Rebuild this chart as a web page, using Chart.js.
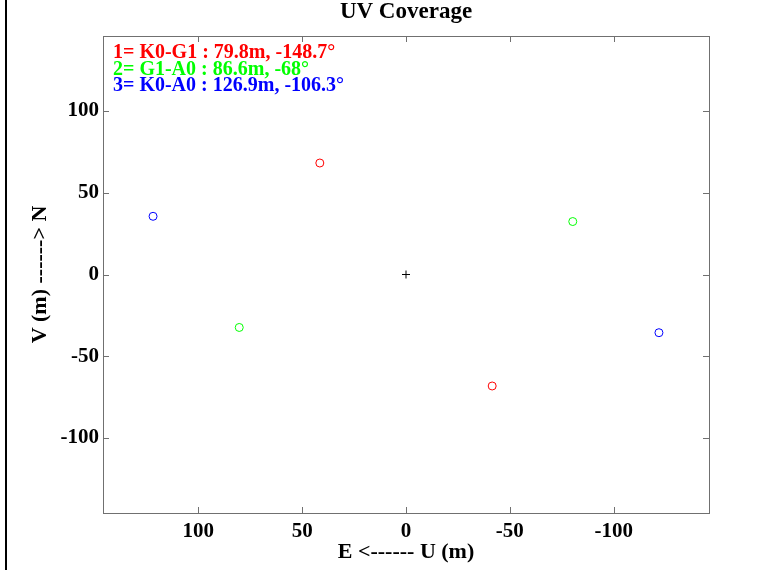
<!DOCTYPE html>
<html>
<head>
<meta charset="utf-8">
<script src="https://cdn.jsdelivr.net/npm/chart.js@4"></script>
<style>
  html, body { margin: 0; padding: 0; background: #fff; }
  #wrap { width: 775px; height: 570px; }
</style>
</head>
<body>
<div id="wrap"><canvas id="uvChart" width="775" height="570"></canvas></div>
<script>
const titleText = "UV Coverage";
const xLabel = "E <------ U (m)";
const yLabel = "V (m) ------> N";

// baselines (u, v) in metres
const u1 = [41.5, -41.5];
const v1 = [68.2, -68.2];
const u2 = [80.3, -80.3];
const v2 = [-32.4, 32.4];
const u3 = [121.8, -121.8];
const v3 = [35.6, -35.6];
const centre = [{ x: 0, y: 0 }];

const legendLines = [
  "1= K0-G1 : 79.8m, -148.7°",
  "2= G1-A0 : 86.6m, -68°",
  "3= K0-A0 : 126.9m, -106.3°",
];
const legendColors = ["#ff0000", "#00ff00", "#0000ff"];

const axisLimit = 145.9;
const xTicks = [100, 50, 0, -50, -100];
const yTicks = [100, 50, 0, -50, -100];

const toPoints = (us, vs) => us.map((u, i) => ({ x: u, y: vs[i] }));

const serif = "'Liberation Serif', 'Times New Roman', serif";
const boxColor = "#707070";

const framePlugin = {
  id: "frame",
  afterDraw(chart) {
    const ctx = chart.ctx;
    const a = chart.chartArea;
    const xs = chart.scales.x;
    const ys = chart.scales.y;
    ctx.save();
    // figure edge line on the left
    ctx.fillStyle = "#000";
    ctx.fillRect(5, 0, 2, chart.height);
    // axes box
    ctx.strokeStyle = boxColor;
    ctx.lineWidth = 1;
    ctx.strokeRect(Math.round(a.left) + 0.5, Math.round(a.top) + 0.5,
      Math.round(a.right - a.left), Math.round(a.bottom - a.top));
    // inward ticks on all four sides
    ctx.beginPath();
    xTicks.forEach((t) => {
      const px = Math.round(xs.getPixelForValue(t)) + 0.5;
      ctx.moveTo(px, a.bottom); ctx.lineTo(px, a.bottom - 6);
      ctx.moveTo(px, a.top); ctx.lineTo(px, a.top + 6);
    });
    yTicks.forEach((t) => {
      const py = Math.round(ys.getPixelForValue(t)) + 0.5;
      ctx.moveTo(a.left, py); ctx.lineTo(a.left + 6, py);
      ctx.moveTo(a.right, py); ctx.lineTo(a.right - 6, py);
    });
    ctx.stroke();
    // title
    ctx.fillStyle = "#000";
    ctx.font = "bold 23px " + serif;
    ctx.textAlign = "center";
    ctx.textBaseline = "alphabetic";
    ctx.fillText(titleText, (a.left + a.right) / 2, 18);
    // baseline legend text
    ctx.font = "bold 20px " + serif;
    ctx.textAlign = "left";
    legendLines.forEach((line, i) => {
      ctx.fillStyle = legendColors[i];
      ctx.fillText(line, a.left + 10, 58 + i * 16.7);
    });
    ctx.restore();
  },
};

const circle = (color) => ({
  pointStyle: "circle",
  pointRadius: 4,
  pointBorderWidth: 1,
  borderColor: color,
  backgroundColor: "rgba(0,0,0,0)",
  pointHoverRadius: 4,
});

new Chart(document.getElementById("uvChart"), {
  type: "scatter",
  data: {
    datasets: [
      { label: "1", data: toPoints(u1, v1), ...circle("#ff0000") },
      { label: "2", data: toPoints(u2, v2), ...circle("#00ff00") },
      { label: "3", data: toPoints(u3, v3), ...circle("#0000ff") },
      {
        label: "centre",
        data: centre,
        pointStyle: "cross",
        pointRadius: 4,
        pointBorderWidth: 1,
        borderColor: "#000",
        backgroundColor: "#000",
      },
    ],
  },
  options: {
    responsive: false,
    animation: false,
    layout: { padding: { top: 36, right: 66, left: 0, bottom: 0 } },
    plugins: {
      legend: { display: false },
      title: { display: false },
      tooltip: { enabled: false },
    },
    scales: {
      x: {
        type: "linear",
        reverse: true,
        min: -axisLimit,
        max: axisLimit,
        afterBuildTicks: (s) => { s.ticks = xTicks.map((v) => ({ value: v })); },
        afterFit: (s) => { s.height = 57; },
        grid: { display: false, drawTicks: false },
        border: { display: false },
        ticks: {
          color: "#000",
          padding: 6,
          maxRotation: 0,
          font: { family: serif, size: 21, weight: "bold" },
        },
        title: {
          display: true,
          text: xLabel,
          color: "#000",
          padding: { top: 0, bottom: 4 },
          font: { family: serif, size: 22, weight: "bold" },
        },
      },
      y: {
        type: "linear",
        min: -axisLimit,
        max: axisLimit,
        afterBuildTicks: (s) => { s.ticks = yTicks.map((v) => ({ value: v })); },
        afterFit: (s) => { s.width = 103; },
        grid: { display: false, drawTicks: false },
        border: { display: false },
        ticks: {
          color: "#000",
          padding: 4,
          font: { family: serif, size: 21, weight: "bold" },
        },
        title: {
          display: true,
          text: yLabel,
          color: "#000",
          padding: { top: 27, bottom: 0 },
          font: { family: serif, size: 22, weight: "bold" },
        },
      },
    },
  },
  plugins: [framePlugin],
});
</script>
</body>
</html>
